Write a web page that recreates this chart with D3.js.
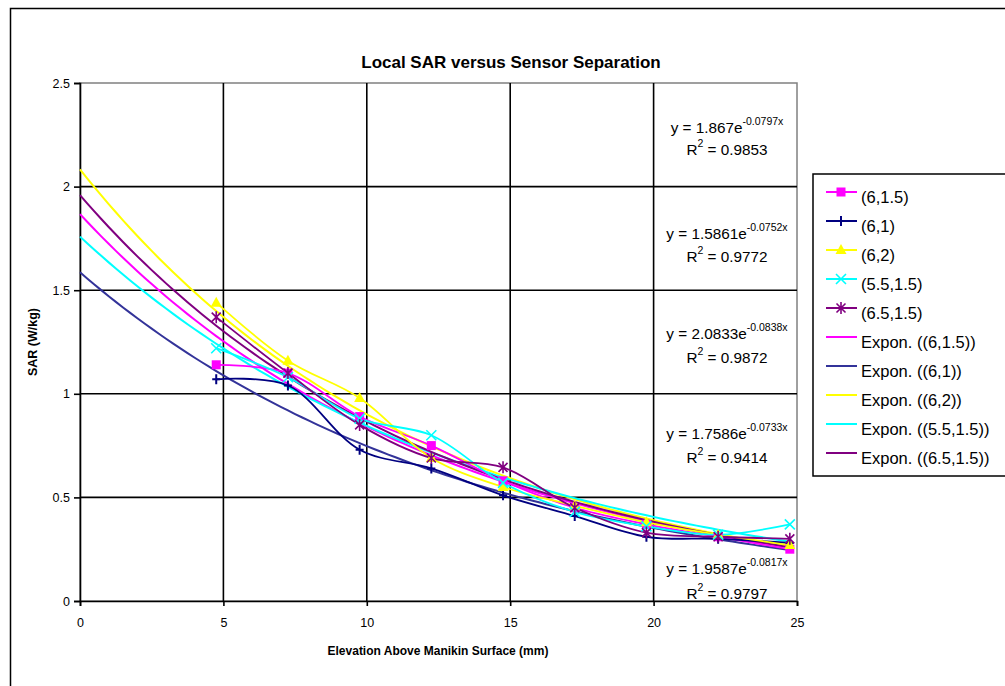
<!DOCTYPE html>
<html><head><meta charset="utf-8">
<script src="https://cdn.jsdelivr.net/npm/d3@7"></script>
<style>body{margin:0;background:#fff}svg{display:block;font-family:"Liberation Sans",Arial,sans-serif}</style>
</head><body><svg id="c" width="1005" height="686"></svg>
<script>
const xValues = [4.75, 7.25, 9.75, 12.25, 14.75, 17.25, 19.75, 22.25, 24.75];
const seriesNames = ["(6,1.5)", "(6,1)", "(6,2)", "(5.5,1.5)", "(6.5,1.5)"];
const s_6_15 = [1.14, 1.10, 0.89, 0.75, 0.58, 0.45, 0.37, 0.31, 0.25];
const s_6_1  = [1.07, 1.04, 0.73, 0.64, 0.51, 0.41, 0.31, 0.30, 0.28];
const s_6_2  = [1.44, 1.16, 0.98, 0.69, 0.55, 0.46, 0.38, 0.32, 0.27];
const s_55_15 = [1.22, 1.08, 0.88, 0.80, 0.57, 0.43, 0.36, 0.32, 0.37];
const s_65_15 = [1.37, 1.10, 0.85, 0.69, 0.645, 0.45, 0.33, 0.31, 0.30];
const trendA = [1.867, 1.5861, 2.0833, 1.7586, 1.9587];
const trendB = [-0.0797, -0.0752, -0.0838, -0.0733, -0.0817];
const eqCoef = ["1.867", "1.5861", "2.0833", "1.7586", "1.9587"];
const eqExp = ["-0.0797x", "-0.0752x", "-0.0838x", "-0.0733x", "-0.0817x"];
const eqR2 = ["0.9853", "0.9772", "0.9872", "0.9414", "0.9797"];
const xTicks = [0, 5, 10, 15, 20, 25];
const yTicks = [0, 0.5, 1, 1.5, 2, 2.5];
const yTickLabels = ["0", "0.5", "1", "1.5", "2", "2.5"];

const seriesData = [s_6_15, s_6_1, s_6_2, s_55_15, s_65_15];
const colors = ["#FF00FF", "#000080", "#FFFF00", "#00FFFF", "#800080"];
const trendColors = ["#FF00FF", "#333399", "#FFFF00", "#00FFFF", "#800080"];
const markers = ["square", "plus", "triangle", "x", "star"];

const svg = d3.select("#c");
svg.append("rect").attr("x",10.5).attr("y",8.5).attr("width",1100).attr("height",700)
  .attr("fill","#fff").attr("stroke","#000").attr("stroke-width",1.5);

const x = d3.scaleLinear().domain([0,25]).range([80,797]);
const y = d3.scaleLinear().domain([0,2.5]).range([601,83]);

svg.append("rect").attr("x",80).attr("y",83).attr("width",717).attr("height",518)
  .attr("fill","#fff").attr("stroke","#808080").attr("stroke-width",1.5);

svg.append("g").selectAll("line").data(yTicks.slice(1,5)).join("line")
  .attr("x1",x(0)).attr("x2",x(25)).attr("y1",d=>y(d)).attr("y2",d=>y(d))
  .attr("stroke","#000").attr("stroke-width",1.6);
svg.append("g").selectAll("line").data(xTicks.slice(1,5)).join("line")
  .attr("y1",y(0)).attr("y2",y(2.5)).attr("x1",d=>x(d)).attr("x2",d=>x(d))
  .attr("stroke","#000").attr("stroke-width",1.6);

const yAxis = d3.axisLeft(y).tickValues(yTicks).tickFormat((d,i)=>yTickLabels[i]).tickSize(6).tickPadding(4);
const xAxis = d3.axisBottom(x).tickValues(xTicks).tickFormat(d=>String(d)).tickSize(5).tickPadding(12);
const gy = svg.append("g").attr("transform",`translate(${x(0)},0)`).call(yAxis);
const gx = svg.append("g").attr("transform",`translate(0,${y(0)})`).call(xAxis);
[gy,gx].forEach(g=>{
  g.select(".domain").attr("stroke","#000").attr("stroke-width",1.6);
  g.selectAll(".tick line").attr("stroke","#000").attr("stroke-width",1.6);
  g.selectAll(".tick text").attr("font-size",12.5).attr("fill","#000").attr("font-family","Liberation Sans, Arial, sans-serif");
});

const tx = d3.range(0, 24.76, 0.25);
seriesData.forEach((s,i)=>{
  const pts = tx.map(v=>[v, trendA[i]*Math.exp(trendB[i]*v)]);
  svg.append("path").datum(pts)
    .attr("d", d3.line().x(d=>x(d[0])).y(d=>y(d[1])))
    .attr("fill","none").attr("stroke",trendColors[i]).attr("stroke-width",2);
});

seriesData.forEach((s,i)=>{
  svg.append("path").datum(s.map((v,j)=>[xValues[j],v]))
    .attr("d", d3.line().x(d=>x(d[0])).y(d=>y(d[1])).curve(d3.curveCatmullRom))
    .attr("fill","none").attr("stroke",colors[i]).attr("stroke-width",1.8);
});

function drawMarker(g, type, cx, cy, color){
  if(type==="square"){
    g.append("rect").attr("x",cx-4.5).attr("y",cy-4.5).attr("width",9).attr("height",9).attr("fill",color);
  } else if(type==="plus"){
    g.append("path").attr("d",`M${cx-4},${cy}H${cx+4}M${cx},${cy-5}V${cy+5}`).attr("stroke",color).attr("stroke-width",2).attr("fill","none");
  } else if(type==="triangle"){
    g.append("path").attr("d",`M${cx},${cy-6}L${cx+5.5},${cy+4}L${cx-5.5},${cy+4}Z`).attr("fill",color);
  } else if(type==="x"){
    g.append("path").attr("d",`M${cx-5},${cy-5}L${cx+5},${cy+5}M${cx-5},${cy+5}L${cx+5},${cy-5}`).attr("stroke",color).attr("stroke-width",1.6).attr("fill","none");
  } else if(type==="star"){
    g.append("path").attr("d",`M${cx-4.5},${cy-4.5}L${cx+4.5},${cy+4.5}M${cx-4.5},${cy+4.5}L${cx+4.5},${cy-4.5}M${cx},${cy-6}V${cy+6}`).attr("stroke",color).attr("stroke-width",1.6).attr("fill","none");
  }
}
seriesData.forEach((s,i)=>{
  const g = svg.append("g");
  s.forEach((v,j)=>drawMarker(g, markers[i], x(xValues[j]), y(v), colors[i]));
});

const eqY = [127, 233, 333, 433, 568];
const eqR2Y = [149, 256, 357, 457, 593];
eqCoef.forEach((c,i)=>{
  const t = svg.append("text").attr("x",727).attr("y",eqY[i]+5.5).attr("text-anchor","middle")
    .attr("font-size",15.3).attr("fill","#000");
  t.append("tspan").text(`y = ${c}e`);
  t.append("tspan").attr("dy",-8).attr("font-size",10.5).text(eqExp[i]);
  const r = svg.append("text").attr("x",727).attr("y",eqR2Y[i]+5.5).attr("text-anchor","middle")
    .attr("font-size",15.3).attr("fill","#000");
  r.append("tspan").text("R");
  r.append("tspan").attr("dy",-8).attr("font-size",10.5).text("2");
  r.append("tspan").attr("dy",8).text(` = ${eqR2[i]}`);
});

svg.append("text").attr("x",511).attr("y",68).attr("text-anchor","middle")
  .attr("font-size",17).attr("font-weight","bold").text("Local SAR versus Sensor Separation");
svg.append("text").attr("x",438).attr("y",655).attr("text-anchor","middle")
  .attr("font-size",12).attr("font-weight","bold").text("Elevation Above Manikin Surface (mm)");
svg.append("text").attr("transform","translate(37,342) rotate(-90)").attr("text-anchor","middle")
  .attr("font-size",12.5).attr("font-weight","bold").text("SAR (W/kg)");

const legendNames = seriesNames.concat(seriesNames.map(n=>`Expon. (${n})`));
svg.append("rect").attr("x",813).attr("y",174).attr("width",300).attr("height",302)
  .attr("fill","#fff").attr("stroke","#000").attr("stroke-width",1.5);
legendNames.forEach((n,i)=>{
  const ly = 192 + i*29;
  const isTrend = i>=5;
  const k = i%5;
  const col = isTrend ? trendColors[k] : colors[k];
  svg.append("line").attr("x1",826).attr("x2",857).attr("y1",ly).attr("y2",ly)
    .attr("stroke",col).attr("stroke-width",2);
  if(!isTrend) drawMarker(svg.append("g"), markers[k], 841, ly, col);
  svg.append("text").attr("x",861).attr("y",ly+11).attr("font-size",16.5).attr("fill","#000").text(n);
});
</script></body></html>
